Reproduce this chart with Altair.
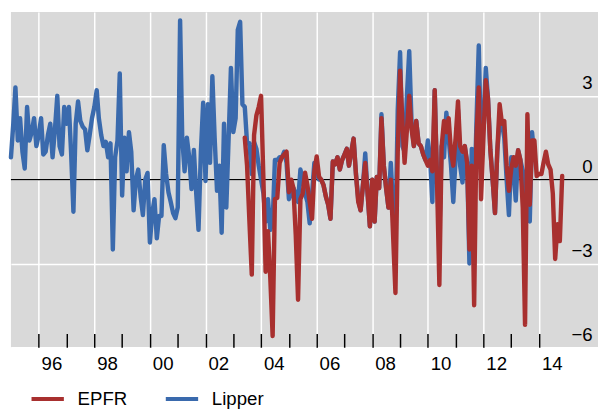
import altair as alt
import pandas as pd

# ---------------- data (monthly % values) ----------------
lipper_start = "1995-01-01"
lipper = [
    0.8, 2.0, 3.3, 1.4, 2.2, 1.0, 0.4, 2.6, 1.4, 1.7,
    2.2, 1.2, 1.6, 2.2, 0.9, 1.0, 1.6, 2.0, 0.8, 1.8,
    3.0, 1.2, 0.9, 2.6, 2.0, 2.6, 1.0, -1.15, 2.0, 2.8,
    2.1, 1.9, 1.8, 1.05, 1.6, 2.2, 2.6, 3.2, 2.2, 1.6,
    1.2, 1.35, 0.8, 1.3, -2.5, 0.8, 1.4, 3.8, -0.57, 1.5,
    0.3, 1.7, 1.0, -1.1, 0.0, 0.36, -0.6, -1.27, 0.0, 0.24,
    -2.25, -1.2, -0.7, -2.1, -1.3, -1.3, 1.23, 0.2, -0.45, -0.8,
    -1.2, -1.38, -1.0, 5.7, 1.5, 0.3, 1.5, 0.8, -0.34, 1.06,
    -0.5, -1.8, 1.0, 2.75, -0.05, 2.7, 0.6, 3.7, 1.5, -0.4,
    0.5, -1.9, 2.0, -1.0, 1.5, 4.0, 1.7, 2.2, 5.36, 5.65,
    2.7, 2.6, 1.3, 1.3, 0.2, 1.35, 1.1, 0.5, 0.0, -0.5,
    -1.5, -0.7, -1.8, -1.5, 0.7, 0.7, 0.8, 0.8, 1.0, 0.6,
    -0.7, -0.5, -0.3, -0.5, -0.8, 0.36, 0.0, -0.5, -0.8, -1.56,
    -0.5, 0.6, 0.2, 0.0, 0.0, -0.2, -0.6, -0.9, -1.4, 0.65,
    0.55, 0.8, 0.36, 0.7, 0.9, 1.1, 0.5, 1.0, 1.47, 0.2,
    -0.7, -1.1, -0.2, 0.94, -0.5, -1.67, 0.0, -1.5, 0.1, -0.3,
    2.34, 0.5, -0.3, -1.0, 0.6, -1.0, -2.0, 2.5, 4.56, 1.2,
    1.0, 3.0, 4.6, 2.0, 1.2, 2.1, 1.3, 1.2, 0.9, 0.7,
    1.4, 0.7, -0.8, 3.2, 0.0, -2.0, 1.2, 0.8, 2.4, 1.5,
    0.5, -0.8, 0.8, 2.5, 0.5, -0.1, 1.2, 0.6, -3.0, 1.1,
    -1.0, 2.0, 4.8, 1.0, 2.0, 4.0, 2.9, 1.06, 0.0, -1.2,
    1.0, 2.1, 2.0, 1.5, 0.0, -1.27, 0.8, 0.3, -0.75, 1.05,
    0.7, 0.3, -0.5, 0.5, -1.5, 1.7, 0.8,
]

epfr_start = "2003-06-01"
epfr = [
    1.5, 0.5, -1.5, -3.4, 1.6, 2.3, 2.6, 3.0, 0.0,
    -3.3, -1.85, -3.5, -5.6, -0.7, -0.65, 0.6, 0.8, 0.9, 1.0,
    -0.45, 0.0, -0.3, -2.0, -4.3, -0.7, -0.5, 0.25, -0.2, -0.8,
    -1.4, 0.3, 0.83, 0.1, 0.0, -0.2, -0.6, -0.9, -1.4, 0.65,
    0.55, 0.8, 0.36, 0.7, 0.9, 1.1, 0.5, 1.0, 1.47, 0.2,
    -0.8, -1.1, -0.2, 0.6, -0.5, -1.67, 0.0, -1.5, 0.1, -0.3,
    2.2, 0.5, -0.3, -1.0, 0.0, -2.0, -4.06, 1.0, 3.9, 2.0,
    0.6, 1.8, 3.0, 1.8, 1.2, 2.1, 1.3, 1.2, 0.9, 0.7,
    0.5, 0.7, 0.3, 3.2, 0.0, -3.77, 1.2, 2.1, 1.7, 2.2,
    1.0, 0.5, 1.5, 2.8, 1.2, 1.0, 1.2, 0.6, -2.5, 0.5,
    -4.5, 1.5, 3.3, -0.7, 1.5, 3.56, 2.9, 1.06, 0.0, -1.2,
    1.0, 2.7, 2.0, 2.1, 0.5, -0.4, 0.4, 0.8, 0.5, 1.05,
    0.7, -1.0, -5.2, 2.34, -0.9, 1.4, 1.4, 0.13, 0.2, 0.2,
    0.6, 1.0, 0.55, 0.36, -0.5, -2.84, -1.6, -2.2, 0.13,
]

series_names = ["EPFR", "Lipper"]
series_colors = ["#a8302f", "#3a6aad"]
tick_years = list(range(1996, 2015))
y_ticks = [-6, -3, 0, 3]
zero_line = [0]

# ---------------- build tables ----------------
def frame(name, start, vals):
    dates = pd.date_range(start, periods=len(vals), freq="MS")
    return pd.DataFrame({"date": dates, "value": vals, "series": name})

df_l = frame("Lipper", lipper_start, lipper)
df_e = frame("EPFR", epfr_start, epfr)
zero_df = pd.DataFrame({"value": zero_line})

W, H = 599, 342
FONT = "Liberation Sans"

x_scale = alt.Scale(domain=[alt.DateTime(year=1995, month=1, date=1),
                            alt.DateTime(year=2016, month=2, date=15)])
y_scale = alt.Scale(domain=[-6, 6], nice=False, zero=False)

x_axis = alt.Axis(
    values=[alt.DateTime(year=y, month=1, date=1) for y in tick_years],
    labelExpr="year(datum.value) % 2 == 0 ? timeFormat(datum.value, '%y') : ''",
    labelOffset=13, labelPadding=8, labelFontSize=19, labelFont=FONT,
    labelColor="black", labelOverlap=False, labelFlush=False,
    tickSize=14, tickColor="black", tickWidth=1.5, offset=-14, domain=False,
    grid=True, gridColor="white", gridWidth=1.5,
    gridOpacity={"condition": {"test": "year(datum.value) % 2 == 0", "value": 1}, "value": 0},
    title=None,
)
y_axis = alt.Axis(
    orient="right", values=y_ticks, offset=-6, labelAlign="right",
    labelBaseline="bottom", labelPadding=0, labelOffset=-3, ticks=False, domain=False,
    grid=True, gridColor="white", gridWidth=1.5,
    labelFontSize=19, labelFont=FONT, labelColor="black", title=None,
)

color = alt.Color(
    "series:N",
    scale=alt.Scale(domain=series_names, range=series_colors),
    legend=alt.Legend(
        orient="none", legendX=19, legendY=376, direction="horizontal",
        title=None, symbolType="stroke", symbolStrokeWidth=4, symbolSize=1089,
        labelFontSize=19, labelFont=FONT, labelColor="black",
        labelOffset=12, columnPadding=31, padding=0,
    ),
)

X = alt.X("date:T", scale=x_scale, axis=x_axis)
Y = alt.Y("value:Q", scale=y_scale, axis=y_axis)

zero = alt.Chart(zero_df).mark_rule(color="black", strokeWidth=1.5).encode(y=Y)
blue = alt.Chart(df_l).mark_line(strokeWidth=4.5, strokeJoin="round", strokeCap="round").encode(
    x=X, y=Y, color=color)
red = alt.Chart(df_e).mark_line(strokeWidth=4.5, strokeJoin="round", strokeCap="round").encode(
    x=X, y=Y, color=color)

chart = (
    alt.layer(zero, blue, red)
    .properties(width=W, height=H, padding=0, background="white")
    .configure_view(fill="#d9d9d9", stroke=None)
)

chart.save("out.html", embed_options={"renderer": "svg", "actions": False})
